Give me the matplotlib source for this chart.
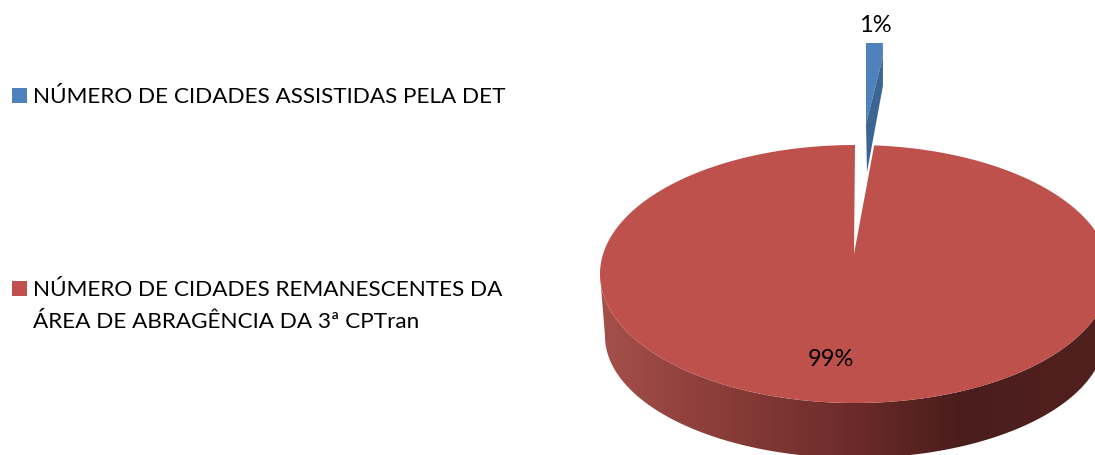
import numpy as np
import matplotlib
matplotlib.use("Agg")
import matplotlib.pyplot as plt
from matplotlib.colors import LinearSegmentedColormap
from matplotlib.patches import Polygon, Rectangle

plt.rcParams['font.family'] = ['Lato', 'DejaVu Sans']

labels = ["NÚMERO DE CIDADES ASSISTIDAS PELA DET",
          "NÚMERO DE CIDADES REMANESCENTES DA\nÁREA DE ABRAGÊNCIA DA 3ª CPTran"]
values = [1.2, 98.8]
colors = ["#4f81bd", "#c0504d"]
pct_labels = ["1%", "99%"]

fig = plt.figure(figsize=(10.95, 4.56), dpi=100)
ax = fig.add_axes([0, 0, 1, 1])
ax.set_xlim(0, 1095)
ax.set_ylim(456, 0)
ax.axis('off')

# ellipse of the top face, in pixels
cx, cy, rx, ry = 855, 275, 255, 129
apex = (854, 255)
theta = 2 * np.pi * values[0] / sum(values)


def ellipse_pts(t, cx, cy, rx, ry):
    # t is measured clockwise from 12 o'clock
    return np.column_stack([cx + rx * np.sin(t), cy - ry * np.cos(t)])


# side wall first, gradient clipped to the front half
low = (855, 337, 250, 122)
t_top = np.linspace(np.pi / 2, 3 * np.pi / 2, 200)
side = np.vstack([ellipse_pts(t_top, cx, cy, rx, ry),
                  ellipse_pts(t_top[::-1], *low)])
side_patch = Polygon(side, closed=True, fc='none', ec='none')
ax.add_patch(side_patch)
cmap = LinearSegmentedColormap.from_list(
    "side", [(0, "#a54f4a"), (0.16, "#93423e"), (0.5, "#6b2b2a"),
             (0.71, "#4a1d1c"), (1, "#52211f")])
img = ax.imshow(np.linspace(0, 1, 256)[None, :], cmap=cmap, aspect='auto',
                extent=(600, 1110, 470, 260), zorder=1)
img.set_clip_path(side_patch)
ax.set_xlim(0, 1095)
ax.set_ylim(456, 0)

# top face of the big slice
t_arc = np.linspace(theta, 2 * np.pi, 500)
top = np.vstack([[apex], ellipse_pts(t_arc, cx, cy, rx, ry)])
ax.add_patch(Polygon(top, closed=True, fc="#bf514d", ec='none', zorder=2))

# exploded small slice
x0 = apex[0] + 12
x1 = x0 + rx * np.sin(theta) * 0.88
y_top, y_tip = 44, 173
light = [(x0, y_top), (x1, y_top), (x1, 58), (x0, 125)]
dark = [(x1, 58), (x1, 87), (x0 + 1, y_tip), (x0, 125)]
ax.add_patch(Polygon(light, closed=True, fc=colors[0], ec='none', zorder=3))
ax.add_patch(Polygon(dark, closed=True, fc="#3c6594", ec='none', zorder=3))

ax.text(875, 25, pct_labels[0], fontsize=17, ha='center', va='center', color='black', zorder=4)
ax.text(831, 360, pct_labels[1], fontsize=17, ha='center', va='center', color='black', zorder=4)

# legend
for y, lab, col in zip([96, 289], labels, colors):
    ax.add_patch(Rectangle((12, y - 7.5), 15, 15, fc=col, ec='none'))
    ax.text(33, y - 9, lab, fontsize=16.2, ha='left', va='top', color='black',
            linespacing=1.75)

fig.savefig("out.png", dpi=100)
